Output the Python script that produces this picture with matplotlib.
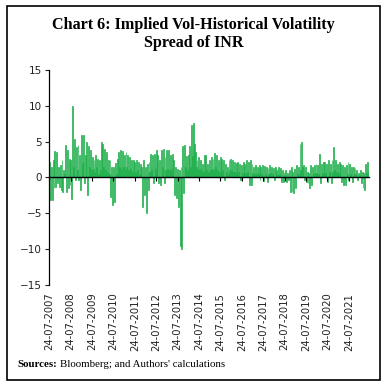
import matplotlib.pyplot as plt
import matplotlib.dates as mdates
from matplotlib.patches import Rectangle
import pandas as pd
import numpy as np

# semi-monthly spread values (two per month)
y2007 = [2.2, -3.1, 1.5, -3.2, 2.4, -1.5, 3.7, -1.3, 3.6, -0.8, 1.5, -1.3]
y2008 = [1.7, -1.8, 2.4, -2.0, 1.0, 0.5, 4.5, -2.0, 3.8, -1.5, 2.6, -1.0,
         2.4, -3.0, 10.0, 1.5, 5.4, -0.4, 4.3, 1.0, 4.5, -0.4, 3.1, -1.8]
y2009 = [5.9, 2.0, 5.9, -0.8, 3.1, 1.2, 5.0, -2.5, 4.4, 1.5, 3.8, 1.0,
         2.9, 1.2, 2.4, 0.8, 3.1, 1.5, 2.6, 0.5, 2.4, 1.0, 5.0, 1.5]
y2010 = [4.7, 1.5, 4.0, 1.0, 3.6, 0.8, 2.4, 0.5, 2.4, -2.7, 1.5, -3.8,
         1.5, -3.4, 2.0, 0.5, 2.6, 1.0, 3.6, 1.5, 3.9, 1.2, 3.7, 1.5]
y2011 = [3.1, 1.0, 3.6, 1.5, 3.1, 1.0, 2.9, 1.2, 2.4, 0.8, 2.4, 1.0,
         2.2, 0.8, 2.5, 1.0, 2.2, 0.5, 1.9, 0.5, 1.5, -4.1, 2.4, -2.5]
y2012 = [1.5, -5.0, 1.9, -1.8, 2.2, 0.8, 3.3, 1.0, 3.1, -0.8, 3.3, 1.2,
         3.8, 1.5, 3.1, -0.8, 2.4, -1.0, 3.9, 1.5, 4.0, -0.8, 2.9, 1.0]
y2013 = [3.8, 1.2, 3.8, 1.0, 3.1, 1.2, 3.3, 1.0, 2.4, -2.5, 1.5, -2.9,
         1.2, -4.1, 1.0, -9.6, 1.5, -10.0, 4.4, -2.2, 4.5, 1.5, 3.0, 1.0]
y2014 = [3.1, 1.0, 4.4, 1.5, 7.3, 3.0, 7.6, 4.7, 3.5, 1.5, 2.4, 1.0,
         2.9, 1.2, 2.4, 1.0, 1.9, 0.8, 3.2, 1.2, 3.1, 1.0, 1.9, 0.8]
y2015 = [2.4, 1.0, 2.9, 1.2, 2.6, 1.0, 3.4, 1.5, 3.1, 1.0, 2.4, 0.8,
         2.9, 1.0, 2.6, 1.0, 2.4, -0.4, 1.9, 0.8, 1.5, 0.5, 2.4, 1.0]
y2016 = [2.6, 1.0, 2.4, 0.8, 2.2, 0.8, 2.0, 1.0, 2.2, 0.8, 1.9, -0.4,
         1.8, 0.6, 2.2, 0.8, 1.9, 0.6, 2.4, 0.8, 2.2, -1.1, 2.4, -1.1]
y2017 = [1.9, 0.6, 1.5, 0.5, 1.7, 0.5, 1.5, 0.6, 1.7, -0.4, 1.5, 0.5,
         1.7, -0.5, 1.6, 0.5, 1.4, -0.6, 1.3, 0.5, 1.7, 0.6, 1.5, 0.5]
y2018 = [1.3, -0.4, 1.5, 0.5, 1.0, 0.4, 1.5, 0.5, 1.3, -0.6, 1.0, -0.7,
         0.8, 0.3, 1.0, -0.6, 0.6, -0.4, 1.0, -2.0, 1.5, -2.0, 0.8, -2.2]
y2019 = [1.2, -1.5, 1.7, 0.5, 1.5, 0.5, 4.7, 1.0, 5.0, 1.5, 1.7, -0.4,
         1.5, -0.6, 0.8, -0.8, 0.6, -1.5, 1.7, -1.1, 1.5, 0.5, 1.7, 0.6]
y2020 = [1.9, 0.6, 1.7, 0.5, 3.3, -0.8, 1.9, 0.6, 2.2, 0.8, 2.2, 0.6,
         1.9, -0.6, 2.4, 0.8, 1.9, -0.8, 2.4, 0.8, 4.2, 1.0, 2.4, 0.8]
y2021 = [1.9, 0.6, 2.2, 0.6, 1.9, -0.6, 1.7, -1.1, 1.5, -1.1, 1.7, 0.5,
         2.2, -0.4, 1.9, 0.5, 1.5, -0.6, 1.5, 0.5, 1.3, 0.5, 1.0, -0.4]
y2022 = [0.6, 0.3, 1.0, -0.8, 0.8, -1.5, 0.6, -1.8, 1.9, 0.6, 2.2, 0.8]

spread = (y2007 + y2008 + y2009 + y2010 + y2011 + y2012 + y2013 + y2014 +
          y2015 + y2016 + y2017 + y2018 + y2019 + y2020 + y2021 + y2022)

tick_years = list(range(2007, 2022))
tick_labels = ["24-07-%d" % y for y in tick_years]

start = pd.Timestamp("2007-07-24")
end = pd.Timestamp("2022-06-30")
edges = pd.date_range(start, end, periods=len(spread) + 1)
x = mdates.date2num(edges)

fig = plt.figure(figsize=(3.87, 3.87), dpi=100)
ax = fig.add_axes([0.127, 0.264, 0.826, 0.555])

ax.bar(x[:-1], spread, width=np.diff(x), align="edge",
       color="#22b04e", edgecolor="#22b04e", linewidth=0.5)

ax.set_xlim(x[0], x[-1])
ax.set_ylim(-15, 15)
ax.set_yticks([-15, -10, -5, 0, 5, 10, 15])
ax.tick_params(axis="y", labelsize=7.5, length=3, width=0.8, pad=2,
               colors="#222222")

ax.spines["bottom"].set_position(("data", 0))
ax.tick_params(axis="x", length=3, width=0.8, pad=80, labelrotation=90,
               labelsize=7.2, labelcolor="#222222")
ax.set_xticks(mdates.date2num([pd.Timestamp("%d-07-24" % y) for y in tick_years]))
ax.set_xticklabels(tick_labels, va="top")

for s in ["top", "right"]:
    ax.spines[s].set_visible(False)
ax.spines["left"].set_linewidth(0.9)
ax.spines["bottom"].set_linewidth(1.0)

fig.text(0.5, 0.912, "Chart 6: Implied Vol-Historical Volatility\nSpread of INR",
         ha="center", va="center", fontsize=11.6, fontweight="bold",
         family="Liberation Serif", linespacing=1.1)

fig.text(0.044, 0.057, "Sources:", fontsize=7.8, fontweight="bold",
         family="Liberation Serif", va="center")
fig.text(0.156, 0.057, "Bloomberg; and Authors' calculations", fontsize=7.8,
         family="Liberation Serif", va="center")

fig.patches.append(Rectangle((0.018, 0.018), 0.964, 0.966, transform=fig.transFigure,
                             fill=False, edgecolor="black", linewidth=1.2))

fig.savefig("out.png", dpi=100)
